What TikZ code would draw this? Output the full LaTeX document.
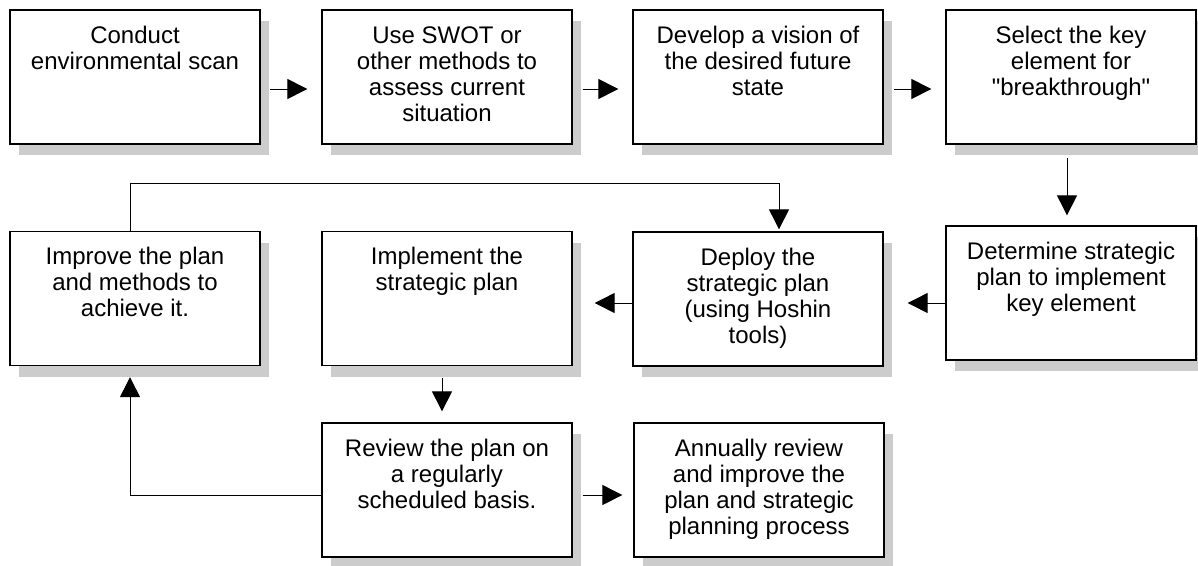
\documentclass[tikz,border=0pt]{standalone}
\usepackage{fontspec}
\setmainfont{Liberation Sans}[Ligatures=TeXOff]
\usetikzlibrary{arrows.meta,shadows}
\tikzset{
  stepbox/.style={draw, line width=1.3pt, fill=white, rectangle,
    minimum width=250pt, minimum height=134pt, inner xsep=5pt, inner ysep=15pt,
    drop shadow={shadow xshift=9pt, shadow yshift=-11pt, fill=black!20, opacity=1}},
  arr/.style={line width=1pt, -{Triangle[length=20pt,width=20pt]}},
}
\newcommand{\bt}[1]{\parbox[c][104pt][t]{240pt}{\centering\fontsize{24}{26}\selectfont\strut #1}}
\begin{document}
\begin{tikzpicture}[x=1pt,y=-1pt]
\useasboundingbox (0,0) rectangle (1198,565);
\node[stepbox] (b1) at (135,77) {\bt{Conduct\\environmental scan}};
\node[stepbox] (b2) at (447,77) {\bt{Use SWOT or\\other methods to\\assess current\\situation}};
\node[stepbox] (b3) at (758,77) {\bt{Develop a vision of\\the desired future\\state}};
\node[stepbox] (b4) at (1071,77) {\bt{Select the key\\element for\\"breakthrough"}};
\node[stepbox] (b5) at (1071,293) {\bt{Determine strategic\\plan to implement\\key element}};
\node[stepbox] (b6) at (758,299) {\bt{Deploy the\\strategic plan\\(using Hoshin\\tools)}};
\node[stepbox] (b7) at (447,298.5) {\bt{Implement the\\strategic plan}};
\node[stepbox] (b8) at (135,298.5) {\bt{Improve the plan\\and methods to\\achieve it.}};
\node[stepbox] (b9) at (447,490) {\bt{Review the plan on\\a regularly\\scheduled basis.}};
\node[stepbox] (b10) at (759,490) {\bt{Annually review\\and improve the\\plan and strategic\\planning process}};

\draw[arr] ([xshift=9pt,yshift=-12pt]b1.east) -- ([xshift=-14pt,yshift=-12pt]b2.west);
\draw[arr] ([xshift=10pt,yshift=-12pt]b2.east) -- ([xshift=-14pt,yshift=-12pt]b3.west);
\draw[arr] ([xshift=10pt,yshift=-12pt]b3.east) -- ([xshift=-14pt,yshift=-12pt]b4.west);
\draw[arr] ([xshift=-4pt,yshift=-13pt]b4.south) -- ([xshift=-4pt,yshift=10pt]b5.north);
\draw[arr] ([yshift=-10pt]b5.west) -- ([xshift=24pt,yshift=-4pt]b6.east);
\draw[arr] ([yshift=-4pt]b6.west) -- ([xshift=22pt,yshift=-4.5pt]b7.east);
\draw[arr] ([xshift=-5pt,yshift=-12pt]b7.south) -- ([xshift=-5pt,yshift=11pt]b9.north);
\draw[arr] ([xshift=10pt,yshift=-5pt]b9.east) -- ([xshift=-11pt,yshift=-5pt]b10.west);

\coordinate (loopy) at (0,183);
\coordinate (u8) at ([xshift=-5pt]b8.north);
\coordinate (d6) at ([xshift=21pt,yshift=2pt]b6.north);
\draw[arr] (u8) -- (u8 |- loopy) -- (d6 |- loopy) -- (d6);
\draw[arr] ([yshift=-5pt]b9.west) -| ([xshift=-5pt,yshift=-11pt]b8.south);
\end{tikzpicture}
\end{document}
